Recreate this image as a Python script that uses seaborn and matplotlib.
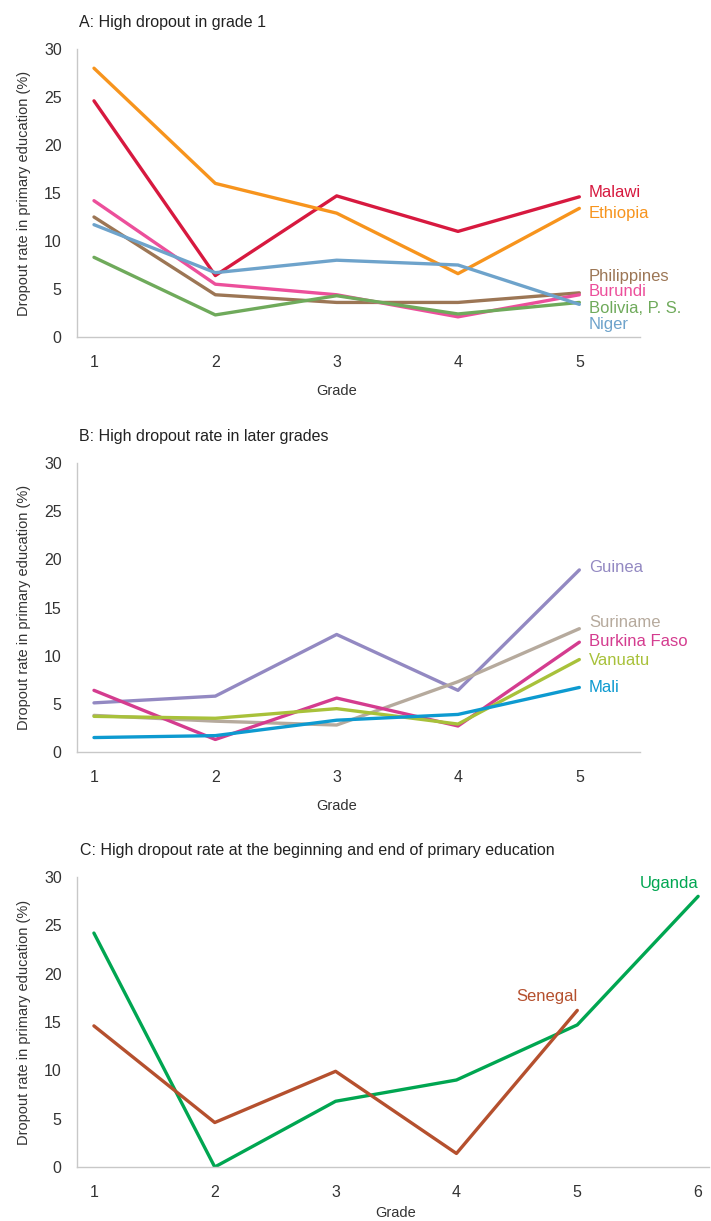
import matplotlib
matplotlib.use("Agg")
import matplotlib.pyplot as plt
import pandas as pd
import seaborn as sns

# Panel A: high dropout in grade 1
grades_a = [1, 2, 3, 4, 5]
malawi = [24.6, 6.4, 14.7, 11.0, 14.6]
ethiopia = [28.0, 16.0, 12.9, 6.6, 13.4]
philippines = [12.5, 4.4, 3.6, 3.6, 4.6]
burundi = [14.2, 5.5, 4.4, 2.1, 4.4]
bolivia = [8.3, 2.3, 4.3, 2.4, 3.6]
niger = [11.7, 6.7, 8.0, 7.5, 3.4]

# Panel B: high dropout in later grades
grades_b = [1, 2, 3, 4, 5]
guinea = [5.1, 5.8, 12.2, 6.4, 18.9]
suriname = [3.8, 3.2, 2.8, 7.3, 12.8]
burkina = [6.4, 1.3, 5.6, 2.7, 11.4]
vanuatu = [3.7, 3.5, 4.5, 2.9, 9.6]
mali = [1.5, 1.7, 3.3, 3.9, 6.7]

# Panel C: beginning and end
grades_uganda = [1, 2, 3, 4, 5, 6]
uganda = [24.2, 0.0, 6.8, 9.0, 14.7, 28.0]
grades_senegal = [1, 2, 3, 4, 5]
senegal = [14.6, 4.6, 9.9, 1.4, 16.2]

# name: (grades, values, colour, label y)
panel_a = {"Malawi": (grades_a, malawi, "#d7193f", 15.1),
           "Ethiopia": (grades_a, ethiopia, "#f7941d", 12.9),
           "Philippines": (grades_a, philippines, "#9c7655", 6.35),
           "Burundi": (grades_a, burundi, "#ec4f9b", 4.7),
           "Bolivia, P. S.": (grades_a, bolivia, "#6faa5b", 2.95),
           "Niger": (grades_a, niger, "#6ea3cb", 1.25)}
panel_b = {"Guinea": (grades_b, guinea, "#9389c2", 19.2),
           "Suriname": (grades_b, suriname, "#b6aa9d", 13.4),
           "Burkina Faso": (grades_b, burkina, "#d43c8f", 11.5),
           "Vanuatu": (grades_b, vanuatu, "#a8c13a", 9.45),
           "Mali": (grades_b, mali, "#0d9ad0", 6.65)}
panel_c = {"Uganda": (grades_uganda, uganda, "#00a651", 29.3),
           "Senegal": (grades_senegal, senegal, "#b5502e", 17.6)}

sns.set_style("white")
plt.rcParams['font.family'] = ['Liberation Sans', 'DejaVu Sans']

FIG_W, FIG_H = 711, 1221
fig = plt.figure(figsize=(7.11, 12.21), dpi=100)


def to_df(series):
    rows = []
    for name, (g, v, c, ly) in series.items():
        for gi, vi in zip(g, v):
            rows.append({"Grade": gi, "Rate": vi, "Country": name})
    return pd.DataFrame(rows)


def draw_panel(rect, series, title, xmax, xticks, label_mode, xlabelpad):
    ax = fig.add_axes(rect)
    df = to_df(series)
    palette = {k: s[2] for k, s in series.items()}
    sns.lineplot(data=df, x="Grade", y="Rate", hue="Country", palette=palette,
                 linewidth=2.4, legend=False, ax=ax, sort=False)
    ax.set_xlim(0.86, xmax)
    ax.set_ylim(0, 30)
    ax.set_xticks(xticks)
    ax.set_yticks([0, 5, 10, 15, 20, 25, 30])
    for s in ["top", "right"]:
        ax.spines[s].set_visible(False)
    for s in ["left", "bottom"]:
        ax.spines[s].set_color("#c8c8c8")
        ax.spines[s].set_linewidth(1.0)
    ax.tick_params(axis="both", length=7, width=1.0, color="#c8c8c8",
                   labelsize=11.5, labelcolor="#333333", direction="out")
    ax.tick_params(axis="y", pad=4)
    ax.tick_params(axis="x", pad=6)
    ax.set_ylabel("Dropout rate in primary education (%)", fontsize=10.5,
                  color="#333333", labelpad=9)
    ax.set_xlabel("Grade", fontsize=10.5, color="#333333", labelpad=xlabelpad)
    mid = (xticks[0] + xticks[-1]) / 2
    ax.xaxis.label.set_x((mid - 0.86) / (xmax - 0.86))
    ax.text(0.004, 1.065, title, transform=ax.transAxes, fontsize=11.5,
            color="#222222", ha="left", va="bottom")
    for name, (g, v, c, ly) in series.items():
        if label_mode == "right":
            ax.text(g[-1] + 0.08, ly, name, color=c, fontsize=12,
                    ha="left", va="center")
        else:
            ax.text(g[-1] + 0.0, ly, name, color=c, fontsize=12,
                    ha="right", va="center")
    return ax


def rect(left, top, right, bottom):
    return [left / FIG_W, 1 - bottom / FIG_H, (right - left) / FIG_W,
            (bottom - top) / FIG_H]


draw_panel(rect(77, 49, 640, 337), panel_a, "A: High dropout in grade 1",
           5.5, [1, 2, 3, 4, 5], "right", 10)
draw_panel(rect(77, 463, 640, 752), panel_b, "B: High dropout rate in later grades",
           5.5, [1, 2, 3, 4, 5], "right", 10)
draw_panel(rect(77, 877, 709, 1167), panel_c,
           "C: High dropout rate at the beginning and end of primary education",
           6.09, [1, 2, 3, 4, 5, 6], "left", 4)

fig.savefig("out.png", dpi=100)
